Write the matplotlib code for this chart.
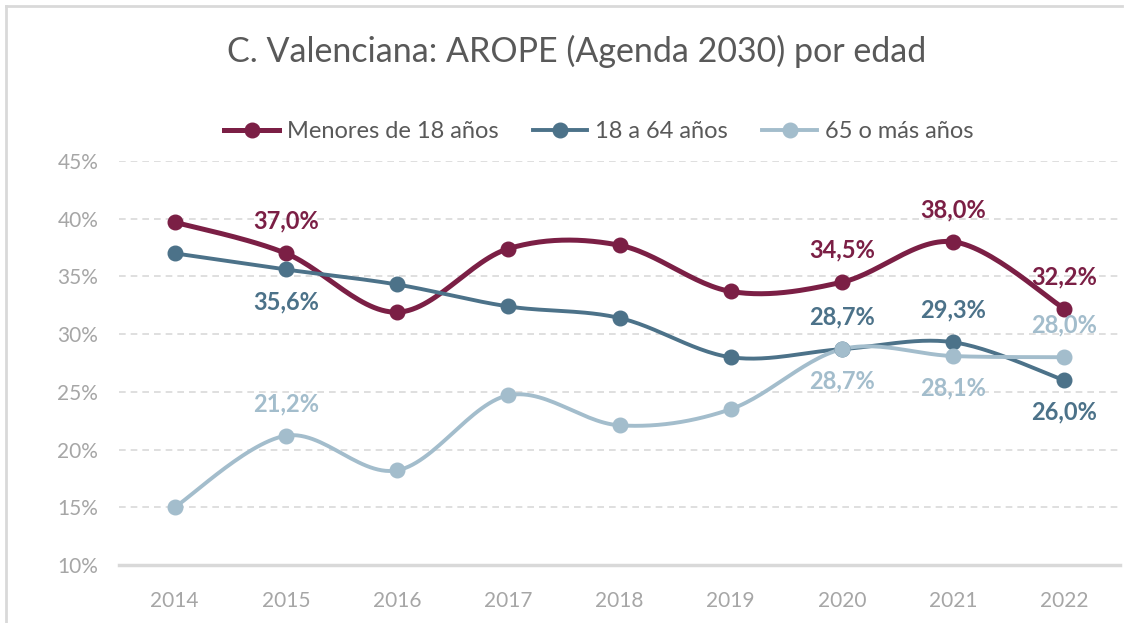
import numpy as np
import matplotlib
matplotlib.use('Agg')
import matplotlib.pyplot as plt
from matplotlib.lines import Line2D

# 数据
years = ['2014', '2015', '2016', '2017', '2018', '2019', '2020', '2021', '2022']
menores = [39.7, 37.0, 31.9, 37.4, 37.7, 33.7, 34.5, 38.0, 32.2]
adultos = [37.0, 35.6, 34.3, 32.4, 31.4, 28.0, 28.7, 29.3, 26.0]
mayores = [15.0, 21.2, 18.2, 24.7, 22.1, 23.5, 28.7, 28.1, 28.0]
names = ['Menores de 18 años', '18 a 64 años', '65 o más años']
colors = ['#7B1F45', '#4C7289', '#A3BDCC']

# 标注位置: 1 = 上方, -1 = 下方
labels_menores = {1: 1, 6: 1, 7: 1, 8: 1}
labels_adultos = {1: -1, 6: 1, 7: 1, 8: -1}
labels_mayores = {1: 1, 6: -1, 7: -1, 8: 1}

plt.rcParams['font.family'] = ['Lato', 'DejaVu Sans']


def smooth(y):
    # Catmull-Rom 风格的平滑曲线 (类似 Excel)
    y = np.asarray(y, dtype=float)
    x = np.arange(len(y), dtype=float)
    xs, ys = [], []
    t = np.linspace(0, 1, 30)
    n = len(y)
    for i in range(n - 1):
        i0 = max(i - 1, 0)
        i3 = min(i + 2, n - 1)
        p0 = np.array([x[i], y[i]])
        p3 = np.array([x[i + 1], y[i + 1]])
        p1 = p0 + (np.array([x[i + 1], y[i + 1]]) - np.array([x[i0], y[i0]])) / 6
        p2 = p3 - (np.array([x[i3], y[i3]]) - np.array([x[i], y[i]])) / 6
        b = ((1 - t) ** 3)[:, None] * p0 + (3 * (1 - t) ** 2 * t)[:, None] * p1 \
            + (3 * (1 - t) * t ** 2)[:, None] * p2 + (t ** 3)[:, None] * p3
        xs.extend(b[:, 0])
        ys.extend(b[:, 1])
    return np.array(xs), np.array(ys)


fig = plt.figure(figsize=(11.41, 6.23), dpi=100)
ax = fig.add_axes([0.1043, 0.0931, 0.8773, 0.6485])

series = [menores, adultos, mayores]
widths = [3.6, 2.8, 2.8]
label_sets = [labels_menores, labels_adultos, labels_mayores]

for vals, c, lw, lab in zip(series, colors, widths, label_sets):
    sx, sy = smooth(vals)
    ax.plot(sx, sy, color=c, lw=lw, solid_capstyle='round', zorder=3)
    ax.plot(range(len(vals)), vals, 'o', color=c, ms=10.5, zorder=4)
    for i, d in lab.items():
        ax.annotate(f'{vals[i]:.1f}%'.replace('.', ','), (i, vals[i]),
                    xytext=(0, 23 * d), textcoords='offset points',
                    ha='center', va='center', color=c, fontsize=17,
                    fontweight='bold', zorder=5)

ax.set_xlim(-0.5, len(years) - 0.5)
ax.set_ylim(10, 45)
ax.set_yticks(np.arange(10, 46, 5))
ax.set_yticklabels([f'{v}%' for v in range(10, 46, 5)])
ax.set_xticks(range(len(years)))
ax.set_xticklabels(years)
ax.tick_params(axis='both', length=0, colors='#A6A6A6', labelsize=15)
ax.tick_params(axis='y', pad=15)
ax.tick_params(axis='x', pad=19)
for v in range(15, 46, 5):
    ax.axhline(v, color='#D9D9D9', lw=1.2, ls=(0, (4, 3)), zorder=1)
for s in ['top', 'right', 'left']:
    ax.spines[s].set_visible(False)
ax.spines['bottom'].set_color('#D9D9D9')
ax.spines['bottom'].set_linewidth(2.5)

# 标题
fig.text(0.505, 0.918, 'C. Valenciana: AROPE (Agenda 2030) por edad',
         ha='center', va='center', fontsize=24.5, color='#595959')

# 图例
handles = [Line2D([0], [0], color=c, lw=w, marker='o', ms=10.5) for c, w in zip(colors, widths)]
fig.legend(handles, names, loc='center', bbox_to_anchor=(0.525, 0.789), ncol=3,
           frameon=False, fontsize=17, labelcolor='#595959', handlelength=2.3,
           handletextpad=0.35, columnspacing=1.45)

# 外框
fig.add_artist(Line2D([6 / 1141, 6 / 1141], [0, 1 - 6 / 623], color='#D9D9D9', lw=2))
fig.add_artist(Line2D([6 / 1141, 1122 / 1141], [1 - 6 / 623, 1 - 6 / 623], color='#D9D9D9', lw=2))

fig.savefig('out.png', dpi=100, facecolor='white')
